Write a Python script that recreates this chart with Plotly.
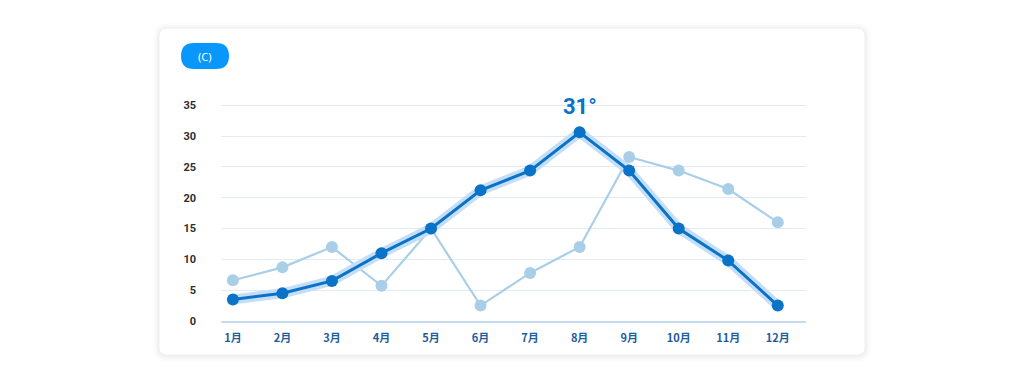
import plotly.graph_objects as go

months = ["1月", "2月", "3月", "4月", "5月", "6月", "7月", "8月", "9月", "10月", "11月", "12月"]
series_main = [3.5, 4.5, 6.5, 11, 15, 21.2, 24.4, 30.6, 24.4, 15, 9.8, 2.5]
series_light = [6.6, 8.7, 12, 5.7, 15, 2.5, 7.8, 12, 26.6, 24.4, 21.4, 16]
y_ticks = [0, 5, 10, 15, 20, 25, 30, 35]
peak_label = "31°"
unit_label = "(C)"

OFF = 8  # page body margin
W, H = 1024, 384
# plot area in screen pixels: x 221..806, y 104..321
TOP, BOT = 104, 321
L, T = 221 - OFF, TOP - OFF
R = (W + OFF) - 806
B = (H + OFF) - BOT
PW, PH = 806 - 221, BOT - TOP


def px(x):
    return (x - 221) / PW


def py(y):
    return 1 - (y - TOP) / PH


def rounded_rect(x0, y0, x1, y1, r):
    X0, X1 = px(x0), px(x1)
    Y0, Y1 = py(y0), py(y1)
    rx, ry = r / PW, r / PH
    return (f"M {X0+rx},{Y0} L {X1-rx},{Y0} Q {X1},{Y0} {X1},{Y0-ry} "
            f"L {X1},{Y1+ry} Q {X1},{Y1} {X1-rx},{Y1} L {X0+rx},{Y1} "
            f"Q {X0},{Y1} {X0},{Y1+ry} L {X0},{Y0-ry} Q {X0},{Y0} {X0+rx},{Y0} Z")


shapes = []
# card shadow
for i, a in [(6, 0.012), (4, 0.016), (2, 0.022)]:
    shapes.append(dict(type="path", xref="paper", yref="paper", layer="below",
                       path=rounded_rect(159 - i, 28 - i + 1, 865 + i, 355 + i + 1, 9 + i),
                       fillcolor=f"rgba(0,0,0,{a})", line=dict(width=0)))
shapes.append(dict(type="path", xref="paper", yref="paper", layer="below",
                   path=rounded_rect(159, 28, 865, 355, 8),
                   fillcolor="#ffffff", line=dict(color="#efefef", width=1)))
# pill
shapes.append(dict(type="path", xref="paper", yref="paper", layer="above",
                   path=rounded_rect(181, 43, 229, 69, 13),
                   fillcolor="#0a97fb", line=dict(width=0)))

fig = go.Figure()
fig.add_trace(go.Scatter(x=months, y=series_light, mode="lines+markers",
                         line=dict(color="#a9cfe8", width=2.2),
                         marker=dict(color="#a9cfe8", size=12),
                         cliponaxis=False, hoverinfo="skip"))
fig.add_trace(go.Scatter(x=months, y=series_main, mode="lines",
                         line=dict(color="#c3def6", width=10),
                         cliponaxis=False, hoverinfo="skip"))
fig.add_trace(go.Scatter(x=months, y=series_main, mode="lines+markers",
                         line=dict(color="#0a72c7", width=3),
                         marker=dict(color="#0a72c7", size=12),
                         cliponaxis=False, hoverinfo="skip"))

peak_i = series_main.index(max(series_main))
annotations = [
    dict(x=months[peak_i], y=series_main[peak_i], xref="x", yref="y", text=peak_label,
         showarrow=False, yshift=26,
         font=dict(family="Roboto", size=22, color="#0a72c7", weight="bold")),
    dict(x=px(205), y=py(56), xref="paper", yref="paper", text=unit_label, showarrow=False,
         xanchor="center", yanchor="middle",
         font=dict(family="Noto Sans", size=11, color="#ffffff")),
]

fig.update_layout(
    width=W, height=H, margin=dict(l=L, r=R, t=T, b=B),
    paper_bgcolor="#ffffff", plot_bgcolor="rgba(0,0,0,0)",
    showlegend=False, shapes=shapes, annotations=annotations,
    xaxis=dict(type="category", range=[-0.24, 11.57], showgrid=False, zeroline=False,
               showline=True, linecolor="#c6dbef", linewidth=2,
               ticks="", ticklabelstandoff=6,
               tickfont=dict(family="Noto Sans CJK SC", size=11, color="#1d5d9d", weight="bold")),
    yaxis=dict(range=[0, 35.2], tickvals=y_ticks, showgrid=True, gridcolor="#e0eaf8", gridwidth=1.3,
               zeroline=False, showline=False, ticks="", ticklabelstandoff=24,
               tickfont=dict(family="Roboto", size=11, color="#2e2e2e", weight="bold")),
)

fig.write_html("out.html")
